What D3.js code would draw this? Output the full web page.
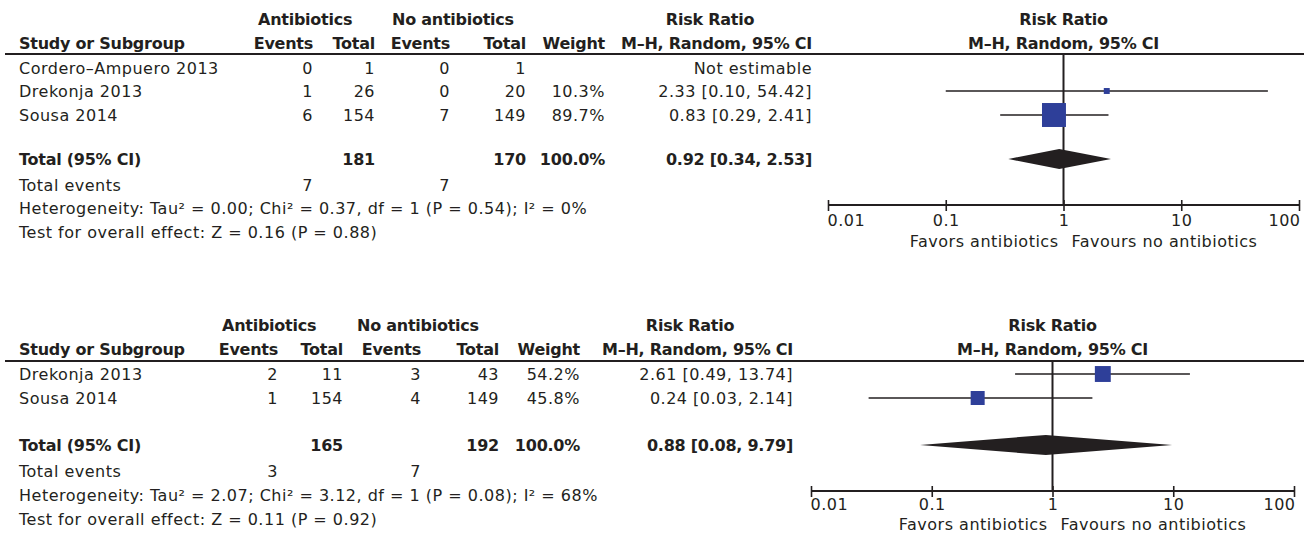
<!DOCTYPE html>
<html><head><meta charset="utf-8">
<script src="https://cdn.jsdelivr.net/npm/d3@7"></script>
<style>
body{margin:0;background:#fff}
text{font-family:'DejaVu Sans',sans-serif;font-size:16px;fill:#231f20;letter-spacing:0.5px}
text.b{font-weight:bold;letter-spacing:-0.25px}
</style>
</head><body>
<svg id="c" width="1304" height="534"></svg>
<script>
// ---------- data ----------
const tickValues = [0.01, 0.1, 1, 10, 100];
const tickLabels = ["0.01", "0.1", "1", "10", "100"];
const favLeft = "Favors antibiotics";
const favRight = "Favours no antibiotics";

// Panel 1
const studies1 = ["Cordero–Ampuero 2013", "Drekonja 2013", "Sousa 2014"];
const abEvents1 = [0, 1, 6];
const abTotal1 = [1, 26, 154];
const noEvents1 = [0, 0, 7];
const noTotal1 = [1, 20, 149];
const weight1 = [null, 10.3, 89.7];
const rr1 = [null, 2.33, 0.83];
const lo1 = [null, 0.10, 0.29];
const hi1 = [null, 54.42, 2.41];
const total1 = {ab: 181, no: 170, weight: 100.0, rr: 0.92, lo: 0.34, hi: 2.53, abEv: 7, noEv: 7};
const het1 = "Heterogeneity: Tau² = 0.00; Chi² = 0.37, df = 1 (P = 0.54); I² = 0%";
const test1 = "Test for overall effect: Z = 0.16 (P = 0.88)";

// Panel 2
const studies2 = ["Drekonja 2013", "Sousa 2014"];
const abEvents2 = [2, 1];
const abTotal2 = [11, 154];
const noEvents2 = [3, 4];
const noTotal2 = [43, 149];
const weight2 = [54.2, 45.8];
const rr2 = [2.61, 0.24];
const lo2 = [0.49, 0.03];
const hi2 = [13.74, 2.14];
const total2 = {ab: 165, no: 192, weight: 100.0, rr: 0.88, lo: 0.08, hi: 9.79, abEv: 3, noEv: 7};
const het2 = "Heterogeneity: Tau² = 2.07; Chi² = 3.12, df = 1 (P = 0.08); I² = 68%";
const test2 = "Test for overall effect: Z = 0.11 (P = 0.92)";

// ---------- layout ----------
const layouts = [
  {lineY:54, h1:25, h2:49, rows:[74,97,121], tot:165, te:191, het:214, test:238,
   axisY:205, tickY:226, favY:247, xMin:828, xMax:1299,
   cols:{name:19, abE:313, abT:375, noE:450, noT:526, w:605, rr:812},
   abHead:258, noHead:392, rrHead:710},
  {lineY:361, h1:331, h2:355, rows:[380,404], tot:451, te:477, het:501, test:525,
   axisY:491, tickY:510, favY:530, xMin:811, xMax:1294,
   cols:{name:19, abE:278, abT:343, noE:421, noT:499, w:580, rr:793},
   abHead:222, noHead:357, rrHead:690}
];

const panels = [
  {studies:studies1, abE:abEvents1, abT:abTotal1, noE:noEvents1, noT:noTotal1, w:weight1, rr:rr1, lo:lo1, hi:hi1, total:total1, het:het1, test:test1},
  {studies:studies2, abE:abEvents2, abT:abTotal2, noE:noEvents2, noT:noTotal2, w:weight2, rr:rr2, lo:lo2, hi:hi2, total:total2, het:het2, test:test2}
];

const svg = d3.select("#c");
const f2 = d3.format(".2f");
const f1 = d3.format(".1f");
const boxSize = d3.scaleLinear().domain([0, 100]).range([3.6, 26.3]);
const ink = "#231f20";
const blue = "#2e3f99";

function txt(g, x, y, s, anchor, bold) {
  return g.append("text").attr("x", x).attr("y", y).attr("text-anchor", anchor || "start")
    .attr("class", bold ? "b" : null).text(s);
}

panels.forEach((p, pi) => {
  const L = layouts[pi];
  const g = svg.append("g");
  const c = L.cols;

  // headers
  txt(g, L.abHead, L.h1, "Antibiotics", "start", true);
  txt(g, L.noHead, L.h1, "No antibiotics", "start", true);
  txt(g, L.rrHead, L.h1, "Risk Ratio", "middle", true);
  txt(g, c.name, L.h2, "Study or Subgroup", "start", true);
  txt(g, c.abE, L.h2, "Events", "end", true);
  txt(g, c.abT, L.h2, "Total", "end", true);
  txt(g, c.noE, L.h2, "Events", "end", true);
  txt(g, c.noT, L.h2, "Total", "end", true);
  txt(g, c.w, L.h2, "Weight", "end", true);
  txt(g, c.rr, L.h2, "M–H, Random, 95% CI", "end", true);
  const xc = (L.xMin + L.xMax) / 2;
  txt(g, xc, L.h1, "Risk Ratio", "middle", true);
  txt(g, xc, L.h2, "M–H, Random, 95% CI", "middle", true);

  g.append("line").attr("x1", 5).attr("x2", 1304).attr("y1", L.lineY).attr("y2", L.lineY)
    .attr("stroke", ink).attr("stroke-width", 2);

  const x = d3.scaleLog().domain([0.01, 100]).range([L.xMin, L.xMax]);

  // vertical line of no effect
  g.append("line").attr("x1", x(1)).attr("x2", x(1)).attr("y1", L.lineY).attr("y2", L.axisY)
    .attr("stroke", ink).attr("stroke-width", 2);

  // study rows
  p.studies.forEach((s, i) => {
    const y = L.rows[i];
    txt(g, c.name, y, s);
    txt(g, c.abE, y, String(p.abE[i]), "end");
    txt(g, c.abT, y, String(p.abT[i]), "end");
    txt(g, c.noE, y, String(p.noE[i]), "end");
    txt(g, c.noT, y, String(p.noT[i]), "end");
    if (p.rr[i] == null) {
      txt(g, c.rr, y, "Not estimable", "end");
    } else {
      txt(g, c.w, y, f1(p.w[i]) + "%", "end");
      txt(g, c.rr, y, `${f2(p.rr[i])} [${f2(p.lo[i])}, ${f2(p.hi[i])}]`, "end");
      const cy = y - 6;
      g.append("line").attr("x1", x(p.lo[i])).attr("x2", x(p.hi[i])).attr("y1", cy).attr("y2", cy)
        .attr("stroke", ink).attr("stroke-width", 1.6);
      const sz = boxSize(p.w[i]);
      g.append("rect").attr("x", x(p.rr[i]) - sz / 2).attr("y", cy - sz / 2)
        .attr("width", sz).attr("height", sz).attr("fill", blue);
    }
  });

  // total row
  const t = p.total;
  txt(g, c.name, L.tot, "Total (95% CI)", "start", true);
  txt(g, c.abT, L.tot, String(t.ab), "end", true);
  txt(g, c.noT, L.tot, String(t.no), "end", true);
  txt(g, c.w, L.tot, f1(t.weight) + "%", "end", true);
  txt(g, c.rr, L.tot, `${f2(t.rr)} [${f2(t.lo)}, ${f2(t.hi)}]`, "end", true);
  const dy = L.tot - 6;
  g.append("path")
    .attr("d", `M${x(t.lo)},${dy}L${x(t.rr)},${dy - 10}L${x(t.hi)},${dy}L${x(t.rr)},${dy + 10}Z`)
    .attr("fill", ink);

  txt(g, c.name, L.te, "Total events");
  txt(g, c.abE, L.te, String(t.abEv), "end");
  txt(g, c.noE, L.te, String(t.noEv), "end");
  txt(g, c.name, L.het, p.het);
  txt(g, c.name, L.test, p.test);

  // axis
  const ax = g.append("g").attr("transform", `translate(0,${L.axisY})`)
    .call(d3.axisBottom(x).tickValues(tickValues).tickSize(0).tickFormat((d, i) => tickLabels[i]));
  ax.attr("font-family", null).attr("font-size", null);
  ax.select(".domain").attr("stroke", ink).attr("stroke-width", 2).attr("d", `M${L.xMin},0H${L.xMax}`);
  ax.selectAll(".tick line").attr("stroke", ink).attr("stroke-width", 1.6).attr("y1", -5).attr("y2", 6);
  ax.selectAll(".tick text")
    .attr("y", L.tickY - L.axisY).attr("dy", null).style("fill", ink)
    .attr("text-anchor", (d, i) => i === 0 ? "start" : (i === tickValues.length - 1 ? "end" : "middle"))
    .attr("dx", (d, i) => i === 0 ? -1 : (i === tickValues.length - 1 ? 1 : 0));

  txt(g, x(1) - 5, L.favY, favLeft, "end");
  txt(g, x(1) + 8, L.favY, favRight, "start");
});
</script>
</body></html>
